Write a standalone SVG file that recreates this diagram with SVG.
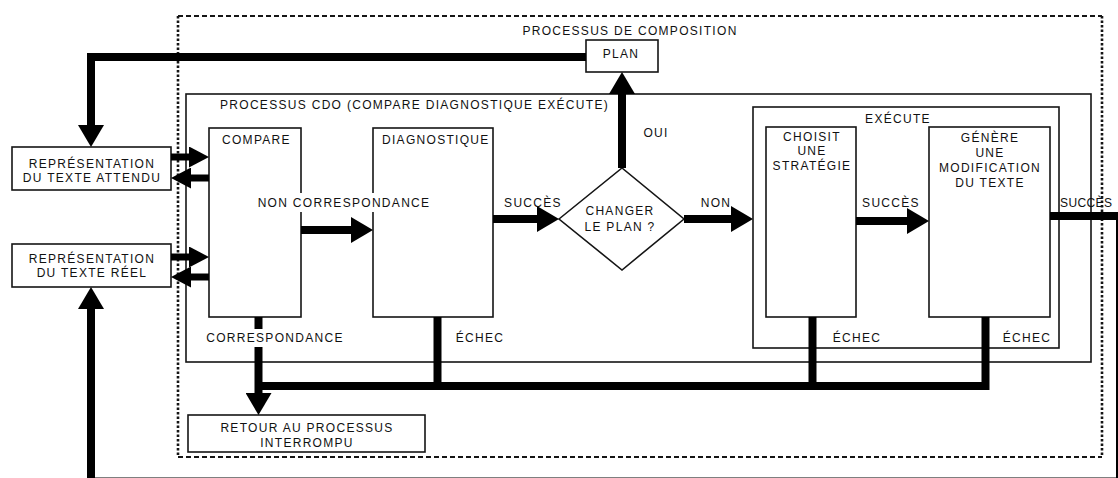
<svg xmlns="http://www.w3.org/2000/svg" width="1118" height="478" viewBox="0 0 1118 478">
<style>
  text { font-family: "Liberation Sans", Arial, sans-serif; font-size: 12px; letter-spacing: 1.3px; fill: #111; }
  .c { text-anchor: middle; }
  .box { fill: #fff; stroke: #151515; stroke-width: 1.6; }
  .cont { fill: none; stroke: #151515; stroke-width: 1.6; }
  .dash { fill: none; stroke: #151515; stroke-width: 1.8; stroke-dasharray: 5 3; }
  .dot { fill: none; stroke: #151515; stroke-width: 2.6; stroke-dasharray: 2.5 2; }
  .thick { fill: none; stroke: #000; stroke-width: 8; stroke-linejoin: miter; }
  .mid { fill: none; stroke: #000; stroke-width: 7; }
  .bg { fill: #fff; }
</style>
<defs>
  <marker id="ah" markerUnits="userSpaceOnUse" markerWidth="22" markerHeight="26" viewBox="0 0 22 26" refX="0" refY="13" orient="auto">
    <path d="M0,0 L22,13 L0,26 z" fill="#000"/>
  </marker>
  <marker id="ahs" markerUnits="userSpaceOnUse" markerWidth="20" markerHeight="21" viewBox="0 0 20 21" refX="0" refY="10.5" orient="auto">
    <path d="M0,0 L20,10.5 L0,21 z" fill="#000"/>
  </marker>
</defs>

<g id="processus-composition">
  <line class="dash" x1="178" y1="16" x2="1102" y2="16"/>
  <line class="dash" x1="178" y1="457" x2="1102" y2="457"/>
  <line class="dot" x1="178" y1="16" x2="178" y2="457"/>
  <line class="dot" x1="1102" y1="16" x2="1102" y2="457"/>
  <text class="c" x="630" y="35">PROCESSUS DE COMPOSITION</text>
</g>

<g id="processus-cdo">
  <rect class="cont" x="186" y="94" width="905" height="268"/>
  <text x="220" y="109">PROCESSUS CDO (COMPARE DIAGNOSTIQUE EXÉCUTE)</text>
</g>

<g id="execute">
  <rect class="cont" x="753" y="107" width="306" height="241"/>
  <text class="c" x="898" y="123">EXÉCUTE</text>
</g>

<g id="plan">
  <rect class="box" x="586" y="40" width="72" height="32"/>
  <text class="c" x="621" y="58">PLAN</text>
</g>

<g id="texte-attendu">
  <rect class="box" x="12" y="147" width="159" height="43"/>
  <text class="c" x="92" y="168">REPRÉSENTATION</text>
  <text class="c" x="92" y="182">DU TEXTE ATTENDU</text>
</g>

<g id="texte-reel">
  <rect class="box" x="12" y="244" width="159" height="43"/>
  <text class="c" x="92" y="263">REPRÉSENTATION</text>
  <text class="c" x="92" y="277">DU TEXTE RÉEL</text>
</g>

<g id="compare">
  <rect class="box" x="209" y="128" width="92" height="189"/>
  <text x="222" y="144">COMPARE</text>
</g>

<g id="diagnostique">
  <rect class="box" x="373" y="128" width="120" height="189"/>
  <text x="382" y="144">DIAGNOSTIQUE</text>
</g>

<g id="changer-plan">
  <polygon class="box" points="559,219 622,168 684,219 622,270"/>
  <text class="c" x="620" y="215">CHANGER</text>
  <text class="c" x="620" y="231">LE PLAN ?</text>
</g>

<g id="choisit-strategie">
  <rect class="box" x="766" y="127" width="90" height="190"/>
  <text class="c" x="812" y="141">CHOISIT</text>
  <text class="c" x="812" y="155">UNE</text>
  <text class="c" x="812" y="170">STRATÉGIE</text>
</g>

<g id="genere-modification">
  <rect class="box" x="929" y="127" width="121" height="190"/>
  <text class="c" x="990" y="142">GÉNÈRE</text>
  <text class="c" x="990" y="157">UNE</text>
  <text class="c" x="990" y="172">MODIFICATION</text>
  <text class="c" x="990" y="187">DU TEXTE</text>
</g>

<g id="retour">
  <rect class="box" x="188" y="415" width="237" height="37"/>
  <text class="c" x="307" y="432">RETOUR AU PROCESSUS</text>
  <text class="c" x="307" y="447">INTERROMPU</text>
</g>

<g id="connectors">
  <path class="thick" d="M586,57 H91 V125" marker-end="url(#ah)"/>
  <line class="mid" x1="171" y1="157" x2="189" y2="157" marker-end="url(#ahs)"/>
  <line class="mid" x1="209" y1="178" x2="191" y2="178" marker-end="url(#ahs)"/>
  <line class="mid" x1="171" y1="257" x2="189" y2="257" marker-end="url(#ahs)"/>
  <line class="mid" x1="209" y1="277" x2="191" y2="277" marker-end="url(#ahs)"/>
  <line class="thick" x1="301" y1="230" x2="351" y2="230" marker-end="url(#ah)"/>
  <line class="thick" x1="493" y1="219" x2="537" y2="219" marker-end="url(#ah)"/>
  <line class="thick" x1="622" y1="168" x2="622" y2="94" marker-end="url(#ah)"/>
  <line class="thick" x1="684" y1="219" x2="731" y2="219" marker-end="url(#ah)"/>
  <line class="thick" x1="856" y1="221" x2="907" y2="221" marker-end="url(#ah)"/>
  <path class="thick" d="M1050,216 H1120 V481.5 H91 V309" marker-end="url(#ah)"/>
  <path class="thick" d="M258.5,317 V393" marker-end="url(#ah)"/>
  <path class="thick" d="M985.5,317 V386 H258.5"/>
  <line class="thick" x1="437.5" y1="317" x2="437.5" y2="386"/>
  <line class="thick" x1="812.5" y1="317" x2="812.5" y2="386"/>
</g>

<g id="edge-labels">
  <rect class="bg" x="250" y="193" width="186" height="19"/>
  <text class="c" x="344" y="207">NON CORRESPONDANCE</text>
  <text class="c" x="533" y="207">SUCCÈS</text>
  <text class="c" x="656" y="137">OUI</text>
  <text class="c" x="716" y="207">NON</text>
  <text class="c" x="891" y="207">SUCCÈS</text>
  <text x="1060" y="207" style="letter-spacing:0.4px">SUCCÈS</text>
  <rect class="bg" x="200" y="329" width="150" height="18"/>
  <text class="c" x="275" y="342">CORRESPONDANCE</text>
  <text class="c" x="480" y="342">ÉCHEC</text>
  <text class="c" x="857" y="342">ÉCHEC</text>
  <text class="c" x="1027" y="342">ÉCHEC</text>
</g>
</svg>
